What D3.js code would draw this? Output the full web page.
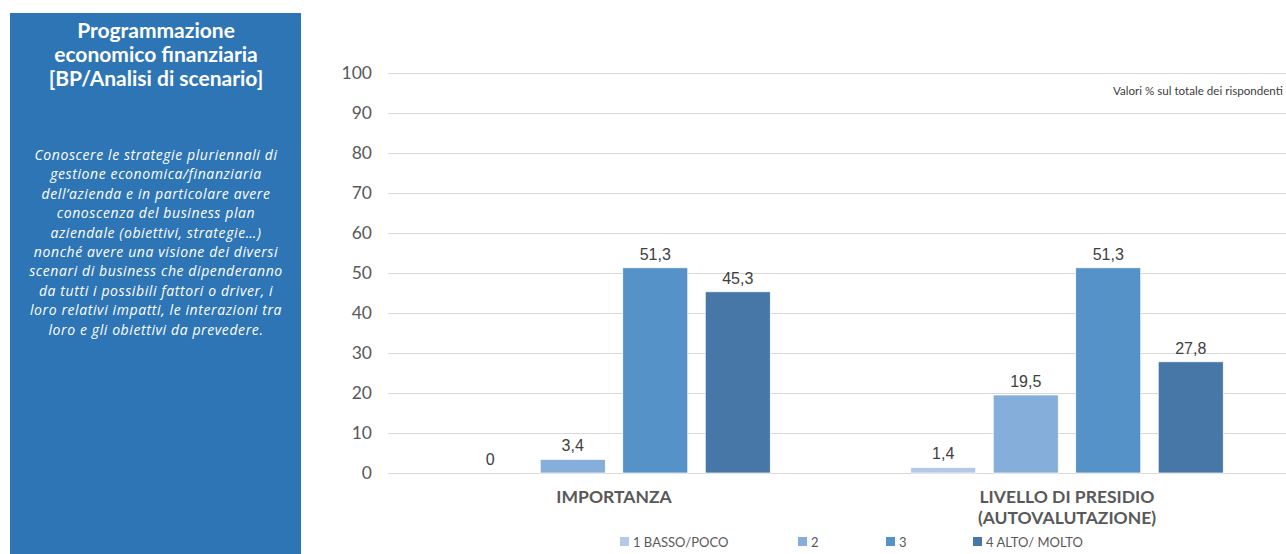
<!DOCTYPE html>
<html>
<head>
<meta charset="utf-8">
<script src="https://cdn.jsdelivr.net/npm/d3@7"></script>
<style>
  body { margin: 0; background: #fff; overflow: hidden; }
  svg { display: block; }
</style>
</head>
<body>
<div id="chart"></div>
<script>
const categories = [['IMPORTANZA'], ['LIVELLO DI PRESIDIO', '(AUTOVALUTAZIONE)']];
const seriesNames = ['1 BASSO/POCO', '2', '3', '4 ALTO/ MOLTO'];
const seriesValues = [
  [0, 3.4, 51.3, 45.3],
  [1.4, 19.5, 51.3, 27.8]
];
const yTicks = [0, 10, 20, 30, 40, 50, 60, 70, 80, 90, 100];
const colors = ['#B4C9E8', '#85AEDB', '#5592C8', '#4677A7'];

const titleLines = ['Programmazione', 'economico finanziaria', '[BP/Analisi di scenario]'];
const descLines = [
  'Conoscere le strategie pluriennali di',
  'gestione economica/finanziaria',
  'dell\u2019azienda e in particolare avere',
  'conoscenza del business plan',
  'aziendale (obiettivi, strategie\u2026)',
  'nonch\u00e9 avere una visione dei diversi',
  'scenari di business che dipenderanno',
  'da tutti i possibili fattori o driver, i',
  'loro relativi impatti, le interazioni tra',
  'loro e gli obiettivi da prevedere.'
];

const width = 1286;
const height = 554;

const svg = d3.select('#chart')
  .append('svg')
  .attr('width', width)
  .attr('height', height);

// left panel
svg.append('rect')
  .attr('x', 10)
  .attr('y', 13)
  .attr('width', 291)
  .attr('height', height - 13)
  .attr('fill', '#2E75B6');

svg.append('g')
  .selectAll('text')
  .data(titleLines)
  .enter().append('text')
  .attr('x', 156)
  .attr('y', (d, i) => 38 + i * 24)
  .attr('text-anchor', 'middle')
  .style('font-family', 'Lato, sans-serif')
  .style('font-weight', 'bold')
  .style('font-size', '21px')
  .attr('fill', '#fff')
  .text((d) => d);

svg.append('g')
  .selectAll('text')
  .data(descLines)
  .enter().append('text')
  .attr('x', 156)
  .attr('y', (d, i) => 160 + i * 19.4)
  .attr('text-anchor', 'middle')
  .style('font-family', '"Open Sans", sans-serif')
  .style('font-style', 'italic')
  .style('font-size', '14px')
  .style('letter-spacing', '0.6px')
  .attr('fill', '#fff')
  .text((d) => d);

// chart
const y = d3.scaleLinear().domain([0, 100]).range([473, 73]);

const x0 = d3.scaleBand()
  .domain(d3.range(categories.length))
  .range([387.5, 1293.5])
  .paddingInner(0.2715)
  .paddingOuter(0.1358);

const x1 = d3.scaleBand()
  .domain(d3.range(seriesNames.length))
  .range([0, x0.bandwidth()])
  .paddingInner(0.212)
  .paddingOuter(0.106);

const grid = svg.append('g')
  .attr('transform', 'translate(388,0)')
  .call(d3.axisLeft(y).tickValues(yTicks).tickSize(-906).tickFormat(''));
grid.select('.domain').remove();
grid.selectAll('line').attr('stroke', '#D9D9D9');

const yAxis = svg.append('g')
  .attr('transform', 'translate(372,0)')
  .call(d3.axisLeft(y).tickValues(yTicks).tickSize(0).tickPadding(0));
yAxis.select('.domain').remove();
yAxis.selectAll('text')
  .style('font-family', 'Lato, sans-serif')
  .style('font-size', '17.5px')
  .attr('fill', '#595959');

const groups = svg.append('g')
  .selectAll('g')
  .data(seriesValues)
  .enter().append('g')
  .attr('transform', (d, i) => `translate(${x0(i)},0)`);

groups.selectAll('rect')
  .data((d) => d)
  .enter().append('rect')
  .attr('x', (d, i) => x1(i))
  .attr('y', (d) => y(d))
  .attr('width', x1.bandwidth())
  .attr('height', (d) => y(0) - y(d))
  .attr('fill', (d, i) => colors[i])
  .attr('stroke', '#fff')
  .attr('stroke-width', 0.7);

groups.selectAll('text.val')
  .data((d) => d)
  .enter().append('text')
  .attr('class', 'val')
  .attr('x', (d, i) => x1(i) + x1.bandwidth() / 2)
  .attr('y', (d) => y(d) - 8)
  .attr('text-anchor', 'middle')
  .style('font-family', '"Liberation Sans", Arial, sans-serif')
  .style('font-size', '16px')
  .attr('fill', '#404040')
  .text((d) => String(d).replace('.', ','));

// category labels
svg.append('g')
  .selectAll('text')
  .data(categories)
  .enter().append('text')
  .attr('text-anchor', 'middle')
  .style('font-family', 'Lato, sans-serif')
  .style('font-weight', 'bold')
  .style('font-size', '17.5px')
  .attr('fill', '#595959')
  .each(function (d, i) {
    d3.select(this).selectAll('tspan')
      .data(d)
      .enter().append('tspan')
      .attr('x', x0(i) + x0.bandwidth() / 2)
      .attr('y', (t, j) => 503 + j * 21)
      .text((t) => t);
  });

svg.append('text')
  .attr('x', 1113)
  .attr('y', 95)
  .style('font-family', 'Lato, sans-serif')
  .style('font-size', '11.6px')
  .attr('fill', '#404040')
  .text('Valori % sul totale dei rispondenti');

// legend
const legendX = [620, 798, 886, 973];
const legend = svg.append('g')
  .selectAll('g')
  .data(seriesNames)
  .enter().append('g')
  .attr('transform', (d, i) => `translate(${legendX[i]},537)`);

legend.append('rect')
  .attr('width', 9)
  .attr('height', 9)
  .attr('fill', (d, i) => colors[i]);

legend.append('text')
  .attr('x', 13)
  .attr('y', 9.5)
  .style('font-family', 'Lato, sans-serif')
  .style('font-size', '13px')
  .attr('fill', '#595959')
  .text((d) => d);
</script>
</body>
</html>
